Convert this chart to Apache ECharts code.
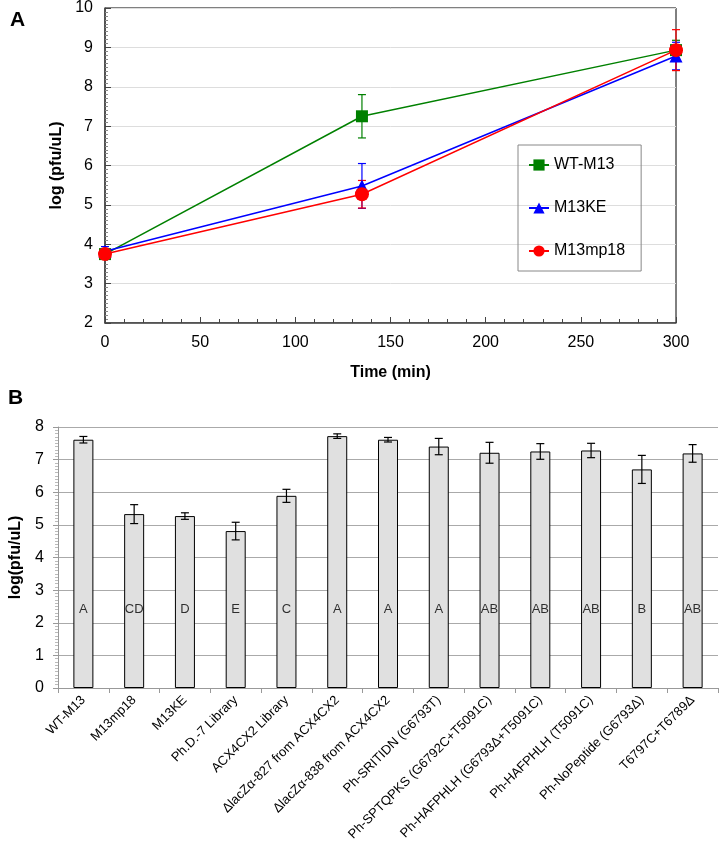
<!DOCTYPE html>
<html>
<head>
<meta charset="utf-8">
<script src="https://cdn.jsdelivr.net/npm/echarts@6/dist/echarts.min.js"></script>
<style>
html,body{margin:0;padding:0;background:#fff;}
#chart{width:719px;height:850px;}
</style>
</head>
<body>
<div id="chart"></div>
<script>
// Panel A data
const timeMin = [0, 135, 300];
const wtM13 = [3.75, 7.25, 8.93];
const wtM13Err = [0.1, 0.55, 0.25];
const m13ke = [3.82, 5.48, 8.78];
const m13keErr = [0.12, 0.57, 0.35];
const m13mp18 = [3.75, 5.27, 8.93];
const m13mp18Err = [0.1, 0.35, 0.52];

// Panel B data
const categories = ['WT-M13', 'M13mp18', 'M13KE', 'Ph.D.-7 Library', 'ACX4CX2 Library',
  'ΔlacZα-827 from ACX4CX2', 'ΔlacZα-838 from ACX4CX2', 'Ph-SRITIDN (G6793T)',
  'Ph-SPTQPKS (G6792C+T5091C)', 'Ph-HAFPHLH (G6793Δ+T5091C)', 'Ph-HAFPHLH (T5091C)',
  'Ph-NoPeptide (G6793Δ)', 'T6797C+T6789Δ'];
const barValues = [7.61, 5.33, 5.27, 4.81, 5.89, 7.72, 7.61, 7.40, 7.21, 7.25, 7.28, 6.70, 7.19];
const barErr = [0.1, 0.29, 0.1, 0.27, 0.2, 0.07, 0.07, 0.25, 0.32, 0.24, 0.22, 0.43, 0.27];
const letters = ['A', 'CD', 'D', 'E', 'C', 'A', 'A', 'A', 'AB', 'AB', 'AB', 'B', 'AB'];
const letterLevel = 2.42;

const FONT = 'Liberation Sans, Arial, sans-serif';

function pairs(xs, ys) { return xs.map((x, i) => [x, ys[i]]); }
function errData(xs, ys, es) { return xs.map((x, i) => [x, ys[i] - es[i], ys[i] + es[i]]); }

function errRender(color, cap, lw) {
  return function (params, api) {
    const x = api.value(0);
    const lo = api.coord([x, api.value(1)]);
    const hi = api.coord([x, api.value(2)]);
    const s = { stroke: color, lineWidth: lw };
    return {
      type: 'group',
      children: [
        { type: 'line', shape: { x1: lo[0], y1: lo[1], x2: hi[0], y2: hi[1] }, style: s },
        { type: 'line', shape: { x1: lo[0] - cap, y1: lo[1], x2: lo[0] + cap, y2: lo[1] }, style: s },
        { type: 'line', shape: { x1: hi[0] - cap, y1: hi[1], x2: hi[0] + cap, y2: hi[1] }, style: s }
      ]
    };
  };
}

const green = '#008000', blue = '#0000ff', red = '#ff0000';

const chart = echarts.init(document.getElementById('chart'), null, { renderer: 'canvas' });
chart.setOption({
  animation: false,
  backgroundColor: '#fff',
  textStyle: { fontFamily: FONT },
  graphic: [
    { type: 'text', left: 10, top: 10, style: { text: 'A', font: 'bold 21px ' + FONT, fill: '#000' } },
    { type: 'text', left: 8, top: 388, style: { text: 'B', font: 'bold 21px ' + FONT, fill: '#000' } }
  ],
  legend: {
    orient: 'vertical',
    left: 518, top: 145,
    padding: [12, 16, 12, 10],
    itemWidth: 20, itemHeight: 14, itemGap: 27,
    borderColor: '#888', borderWidth: 1,
    textStyle: { fontSize: 16, color: '#000', fontFamily: FONT },
    data: ['WT-M13', 'M13KE', 'M13mp18']
  },
  grid: [
    { left: 105, top: 6, width: 571, height: 317, show: true, borderColor: '#000', borderWidth: 1, backgroundColor: 'transparent' },
    { left: 58, top: 427, right: 1, height: 261 }
  ],
  xAxis: [
    {
      gridIndex: 0, type: 'value', min: 0, max: 300, interval: 50,
      name: 'Time (min)', nameLocation: 'middle', nameGap: 42,
      nameTextStyle: { fontWeight: 'bold', fontSize: 16, color: '#000' },
      axisLine: { lineStyle: { color: '#444', width: 1.5 } },
      axisTick: { inside: true, length: 6, lineStyle: { color: '#444' } },
      minorTick: { show: true, splitNumber: 5, length: 4, lineStyle: { color: '#444' } },
      axisLabel: { fontSize: 16, color: '#000', margin: 12 },
      splitLine: { show: false }
    },
    {
      gridIndex: 1, type: 'category', data: categories,
      axisLine: { lineStyle: { color: '#999' } },
      axisTick: { show: true, alignWithLabel: false, length: 5, lineStyle: { color: '#999' } },
      axisLabel: { rotate: 45, fontSize: 13, color: '#000', margin: 10, interval: 0 }
    }
  ],
  yAxis: [
    {
      gridIndex: 0, type: 'value', min: 2, max: 10, interval: 1,
      name: 'log (pfu/uL)', nameLocation: 'middle', nameGap: 40,
      nameTextStyle: { fontWeight: 'bold', fontSize: 16, color: '#000' },
      axisLine: { show: true, lineStyle: { color: '#444', width: 1.5 } },
      axisTick: { show: true, inside: true, length: 6, lineStyle: { color: '#444' } },
      minorTick: { show: true, splitNumber: 10, length: 3, lineStyle: { color: '#888' } },
      axisLabel: { fontSize: 16, color: '#000', margin: 12 },
      splitLine: { lineStyle: { color: '#ddd' } }
    },
    {
      gridIndex: 1, type: 'value', min: 0, max: 8, interval: 1,
      name: 'log(pfu/uL)', nameLocation: 'middle', nameGap: 34,
      nameTextStyle: { fontWeight: 'bold', fontSize: 16, color: '#000' },
      axisLine: { show: true, lineStyle: { color: '#999' } },
      axisTick: { show: true, length: 5, lineStyle: { color: '#999' } },
      minorTick: { show: true, splitNumber: 10, length: 3, lineStyle: { color: '#bbb' } },
      axisLabel: { fontSize: 16, color: '#000', margin: 14 },
      splitLine: { lineStyle: { color: '#aaa' } }
    }
  ],
  series: [
    { type: 'custom', xAxisIndex: 0, yAxisIndex: 0, renderItem: errRender(green, 4, 1.2), data: errData(timeMin, wtM13, wtM13Err), z: 3 },
    { type: 'custom', xAxisIndex: 0, yAxisIndex: 0, renderItem: errRender(blue, 4, 1.2), data: errData(timeMin, m13ke, m13keErr), z: 3 },
    { type: 'custom', xAxisIndex: 0, yAxisIndex: 0, renderItem: errRender(red, 4, 1.2), data: errData(timeMin, m13mp18, m13mp18Err), z: 3 },
    { name: 'WT-M13', type: 'line', xAxisIndex: 0, yAxisIndex: 0, data: pairs(timeMin, wtM13),
      symbol: 'rect', symbolSize: 12, itemStyle: { color: green }, lineStyle: { color: green, width: 1.5 }, z: 4 },
    { name: 'M13KE', type: 'line', xAxisIndex: 0, yAxisIndex: 0, data: pairs(timeMin, m13ke),
      symbol: 'triangle', symbolSize: 13, itemStyle: { color: blue }, lineStyle: { color: blue, width: 1.5 }, z: 5 },
    { name: 'M13mp18', type: 'line', xAxisIndex: 0, yAxisIndex: 0, data: pairs(timeMin, m13mp18),
      symbol: 'circle', symbolSize: 14, itemStyle: { color: red }, lineStyle: { color: red, width: 1.5 }, z: 6 },
    { type: 'bar', xAxisIndex: 1, yAxisIndex: 1, data: barValues, barWidth: 20,
      itemStyle: { color: '#e0e0e0', borderColor: '#000', borderWidth: 1 } },
    { type: 'custom', xAxisIndex: 1, yAxisIndex: 1, renderItem: errRender('#000', 4, 1.2),
      data: categories.map((c, i) => [i, barValues[i] - barErr[i], barValues[i] + barErr[i]]), z: 5 },
    { type: 'scatter', xAxisIndex: 1, yAxisIndex: 1, symbolSize: 0,
      data: letters.map((l, i) => [i, letterLevel]),
      label: { show: true, position: 'inside', fontSize: 13, color: '#000',
        formatter: (p) => letters[p.dataIndex] }, z: 6 }
  ]
});
</script>
</body>
</html>
